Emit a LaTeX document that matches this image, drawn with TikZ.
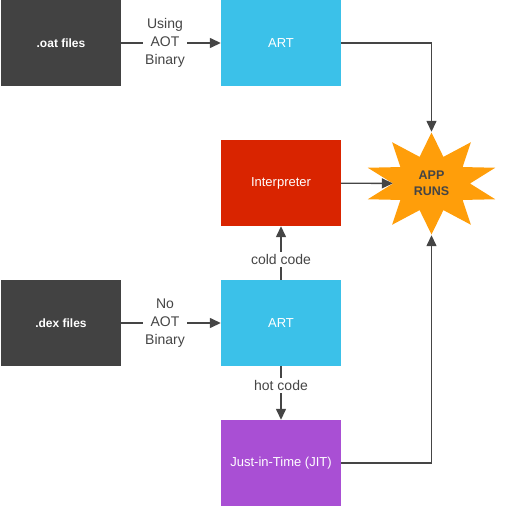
\documentclass[tikz,border=0pt]{standalone}
\usepackage{fontspec}
\setmainfont{Liberation Sans}
\usetikzlibrary{arrows.meta}
\definecolor{filegray}{HTML}{424242}
\definecolor{artblue}{HTML}{3BC1E9}
\definecolor{interpred}{HTML}{D92400}
\definecolor{jitpurple}{HTML}{A94FD4}
\definecolor{starorange}{HTML}{FF9E0A}
\definecolor{labelgray}{HTML}{454545}
\begin{document}
\begin{tikzpicture}[x=1pt, y=-1pt,
  block/.style={minimum width=120pt, minimum height=86pt, inner sep=0pt,
    text=white, font=\fontsize{13}{16}\selectfont},
  filebox/.style={block, fill=filegray, font=\fontsize{12}{15}\selectfont\bfseries},
  flow/.style={draw=labelgray, line width=1.4pt, -{Triangle[length=11pt, width=10pt]}},
  lbl/.style={fill=white, text=labelgray, align=center, inner sep=2pt,
    font=\fontsize{14}{18}\selectfont}]
  % Page frame
  \useasboundingbox (0,0) rectangle (504,508);
  % Upper row
  \node[filebox] (oat) at (61,43) {.oat files};
  \node[block, fill=artblue] (artA) at (281,43) {ART};
  % Middle row
  \node[block, fill=interpred] (interp) at (281,183) {Interpreter};
  % Lower rows
  \node[filebox] (dex) at (61,323) {.dex files};
  \node[block, fill=artblue] (artB) at (281,323) {ART};
  \node[block, fill=jitpurple] (jit) at (281,463) {Just-in-Time (JIT)};
  % Star
  \fill[starorange] plot[samples at={0,...,19}, variable=\k]
    ({431.5+ifthenelse(mod(\k,2)==0,67,38.5)*cos(90+18*\k)},
     {183.5-ifthenelse(mod(\k,2)==0,51,28)*sin(90+18*\k)}) -- cycle;
  \node[minimum width=77pt, minimum height=103pt, inner sep=0pt, align=center,
    text=labelgray, font=\fontsize{12.5}{16}\selectfont\bfseries]
    (run) at (431.5,183.5) {APP\\RUNS};
  % Connectors
  \draw[flow] (oat) -- node[lbl, pos=0.44] {Using\\AOT\\Binary} (artA);
  \draw[flow] (dex) -- node[lbl, pos=0.44] {No\\AOT\\Binary} (artB);
  \draw[flow] (artB) -- node[lbl, pos=0.38] {cold code} (interp);
  \draw[flow] (artB) -- node[lbl, pos=0.36] {hot code} (jit);
  \draw[flow] (interp) -- (run);
  \draw[flow] (artA.east) -| (run.north);
  \draw[flow] (jit.east) -| (run.south);
\end{tikzpicture}
\end{document}
